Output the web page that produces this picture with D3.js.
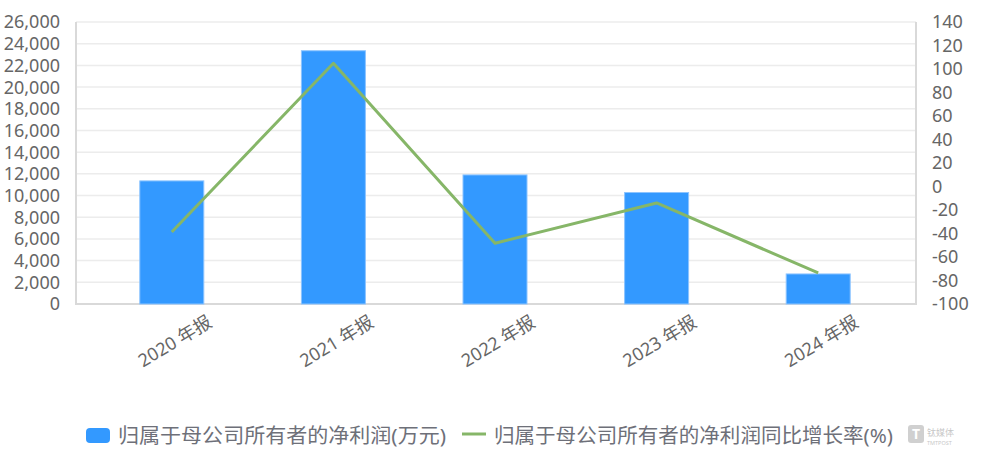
<!DOCTYPE html>
<html>
<head>
<meta charset="utf-8">
<script src="https://cdn.jsdelivr.net/npm/d3@7"></script>
<style>
  html, body { margin: 0; padding: 0; background: #fff; }
  svg { display: block; }
  text { font-family: "Noto Sans", "Noto Sans CJK SC", sans-serif; }
</style>
</head>
<body>
<svg id="chart" width="984" height="462"></svg>
<script>
const categories = ["2020 年报", "2021 年报", "2022 年报", "2023 年报", "2024 年报"];
const netProfit = [11350, 23350, 11900, 10280, 2770];      // 万元
const growthRate = [-38.7, 104.9, -48.3, -14.0, -73.6];   // %
const leftTicks = d3.range(0, 26001, 2000);
const rightTicks = d3.range(-100, 141, 20);
const legendLabels = ["归属于母公司所有者的净利润(万元)", "归属于母公司所有者的净利润同比增长率(%)"];

const svg = d3.select("#chart");
const L = 76, R = 916, T = 22, B = 304;
const barColor = "#3399ff", lineColor = "#86b668", textColor = "#666";

const x = d3.scalePoint().domain(categories).range([91, 899]).padding(0.5);
const yL = d3.scaleLinear().domain([0, 26000]).range([B, T]);
const yR = d3.scaleLinear().domain([-100, 140]).range([B, T]);
const barW = 64;

// gridlines
svg.append("g").selectAll("line").data(leftTicks).join("line")
  .attr("x1", L).attr("x2", R)
  .attr("y1", d => yL(d)).attr("y2", d => yL(d))
  .attr("stroke", "#ececec").attr("stroke-width", 1.5);

// axis frame
const frame = svg.append("g").attr("stroke", "#d9d9d9").attr("stroke-width", 2);
frame.append("line").attr("x1", L).attr("x2", L).attr("y1", T).attr("y2", B + 1);
frame.append("line").attr("x1", R).attr("x2", R).attr("y1", T).attr("y2", B + 1);
frame.append("line").attr("x1", L).attr("x2", R).attr("y1", B).attr("y2", B);

// bars
svg.append("g").selectAll("rect").data(categories).join("rect")
  .attr("x", d => x(d) - barW / 2)
  .attr("width", barW)
  .attr("y", (d, i) => yL(netProfit[i]))
  .attr("height", (d, i) => yL(0) - yL(netProfit[i]))
  .attr("fill", barColor)
  .attr("stroke", "#8cc4ff").attr("stroke-width", 1);

// line
const line = d3.line().x((d, i) => x(categories[i])).y(d => yR(d));
svg.append("path").datum(growthRate)
  .attr("d", line)
  .attr("fill", "none").attr("stroke", lineColor)
  .attr("stroke-width", 3).attr("stroke-linejoin", "round");

// left axis labels
const fmt = d3.format(",");
svg.append("g").selectAll("text").data(leftTicks).join("text")
  .attr("x", 60).attr("y", d => yL(d))
  .attr("dy", "0.36em")
  .attr("text-anchor", "end")
  .attr("font-size", 18).attr("fill", textColor)
  .text(d => fmt(d));

// right axis labels
svg.append("g").selectAll("text").data(rightTicks).join("text")
  .attr("x", 932).attr("y", d => yR(d))
  .attr("dy", "0.36em")
  .attr("text-anchor", "start")
  .attr("font-size", 18).attr("fill", textColor)
  .text(d => d);

// x labels
svg.append("g").selectAll("text").data(categories).join("text")
  .attr("transform", d => `translate(${x(d) + 3},${341}) rotate(-31)`)
  .attr("text-anchor", "middle")
  .attr("dy", "0.36em")
  .attr("font-size", 18).attr("fill", textColor)
  .text(d => d);

// legend
const lg = svg.append("g");
lg.append("rect").attr("x", 86).attr("y", 428).attr("width", 24).attr("height", 15)
  .attr("rx", 4).attr("fill", barColor);
lg.append("text").attr("x", 118).attr("y", 436).attr("dy", "0.36em")
  .attr("font-size", 20).attr("fill", "#6e7079")
  .attr("textLength", 328).attr("lengthAdjust", "spacingAndGlyphs")
  .text(legendLabels[0]);
lg.append("line").attr("x1", 462).attr("x2", 486).attr("y1", 434).attr("y2", 434)
  .attr("stroke", lineColor).attr("stroke-width", 3);
lg.append("text").attr("x", 494).attr("y", 436).attr("dy", "0.36em")
  .attr("font-size", 20).attr("fill", "#6e7079")
  .attr("textLength", 399).attr("lengthAdjust", "spacingAndGlyphs")
  .text(legendLabels[1]);

// watermark
const wm = svg.append("g").attr("opacity", 0.55);
wm.append("rect").attr("x", 908).attr("y", 425).attr("width", 16).attr("height", 18)
  .attr("rx", 3).attr("fill", "#aaa");
wm.append("text").attr("x", 916).attr("y", 439).attr("text-anchor", "middle")
  .attr("font-size", 14).attr("font-weight", "bold").attr("fill", "#fff").text("T");
wm.append("text").attr("x", 927).attr("y", 436)
  .attr("font-size", 9).attr("fill", "#999").text("钛媒体");
wm.append("text").attr("x", 927).attr("y", 445)
  .attr("font-size", 5.5).attr("fill", "#999").text("TMTPOST");
</script>
</body>
</html>
